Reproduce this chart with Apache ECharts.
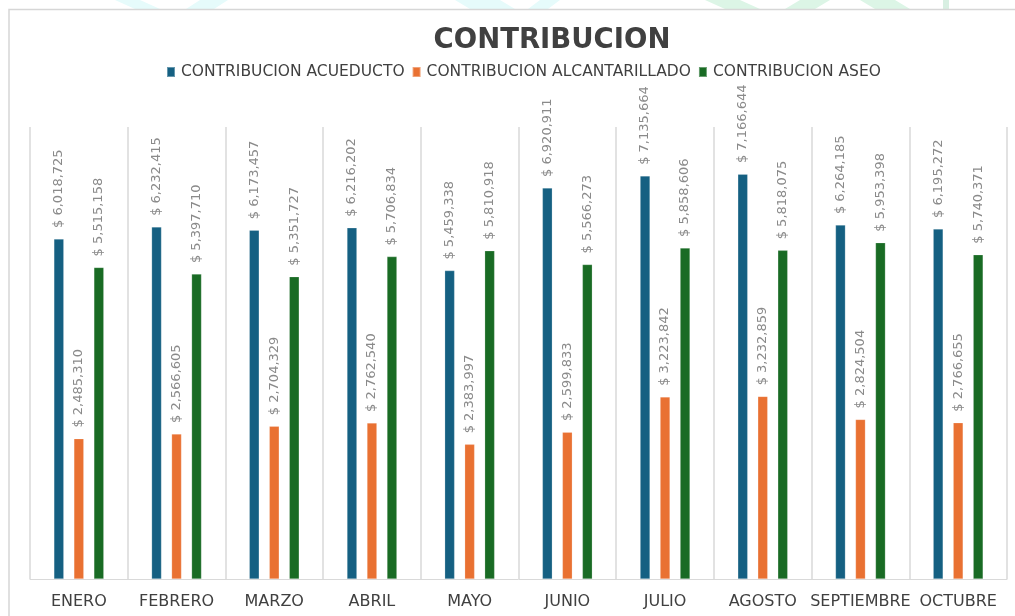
<!DOCTYPE html>
<html>
<head>
<meta charset="utf-8">
<script src="https://cdn.jsdelivr.net/npm/echarts@6/dist/echarts.min.js"></script>
<style>
html,body{margin:0;padding:0;background:#fff;}
#chart{width:1015px;height:616px;}
</style>
</head>
<body>
<div id="chart"></div>
<script>
const categories = ['ENERO','FEBRERO','MARZO','ABRIL','MAYO','JUNIO','JULIO','AGOSTO','SEPTIEMBRE','OCTUBRE'];
const acueducto = [6018725, 6232415, 6173457, 6216202, 5459338, 6920911, 7135664, 7166644, 6264185, 6195272];
const alcantarillado = [2485310, 2566605, 2704329, 2762540, 2383997, 2599833, 3223842, 3232859, 2824504, 2766655];
const aseo = [5515158, 5397710, 5351727, 5706834, 5810918, 5566273, 5858606, 5818075, 5953398, 5740371];
const seriesNames = ['CONTRIBUCION ACUEDUCTO','CONTRIBUCION ALCANTARILLADO','CONTRIBUCION ASEO'];
const colors = ['#156082','#E97132','#196B24'];

const chart = echarts.init(document.getElementById('chart'), null, {renderer:'canvas'});

function fmt(v){ return '$ ' + v.toString().replace(/\B(?=(\d{3})+(?!\d))/g, ','); }

const labelCfg = {
  show: true,
  position: 'top',
  rotate: 90,
  align: 'left',
  verticalAlign: 'middle',
  distance: 11,
  color: '#8a8a8a',
  fontFamily: 'DejaVu Sans',
  fontSize: 13,
  formatter: p => fmt(p.value)
};

function mk(name, data, color){
  return {
    name: name,
    type: 'bar',
    data: data,
    barWidth: 10,
    barGap: '100%',
    itemStyle: {color: color, borderColor: 'rgba(255,255,255,0.35)', borderWidth: 0.6},
    label: labelCfg
  };
}

chart.setOption({
  animation: false,
  color: colors,
  title: {
    text: 'CONTRIBUCION',
    left: 547,
    textAlign: 'center',
    top: 22,
    textStyle: {fontFamily: 'DejaVu Sans', fontWeight: 'bold', fontSize: 27.5, color: '#404040'}
  },
  legend: {
    data: seriesNames,
    left: 161,
    top: 59,
    itemWidth: 8,
    itemHeight: 10,
    itemGap: 7,
    icon: 'rect',
    textStyle: {fontFamily: 'DejaVu Sans', fontSize: 15.5, color: '#404040', padding: [0,0,0,1]}
  },
  grid: {left: 30, right: 8, top: 127, bottom: 37},
  xAxis: {
    type: 'category',
    data: categories,
    axisLine: {show: true, lineStyle: {color: '#d9d9d9', width: 1}},
    axisTick: {show: false},
    splitLine: {show: true, lineStyle: {color: '#d9d9d9', width: 1.5}},
    axisLabel: {margin: 15, interval: 0, fontFamily: 'DejaVu Sans', fontSize: 16, color: '#404040'}
  },
  yAxis: {
    type: 'value',
    min: 0,
    max: 8000000,
    show: false,
    splitLine: {show: false}
  },
  graphic: [
    {type:'polygon', silent:true, z:-10, shape:{points:[[115,0],[140,0],[160,9],[135,9]]}, style:{fill:'#e6fbfb'}},
    {type:'polygon', silent:true, z:-10, shape:{points:[[200,0],[228,0],[214,9],[186,9]]}, style:{fill:'#e6fbfb'}},
    {type:'polygon', silent:true, z:-10, shape:{points:[[455,0],[500,0],[515,9],[470,9]]}, style:{fill:'#e6fbfb'}},
    {type:'polygon', silent:true, z:-10, shape:{points:[[540,0],[560,0],[548,9],[528,9]]}, style:{fill:'#e6fbfb'}},
    {type:'polygon', silent:true, z:-10, shape:{points:[[705,0],[740,0],[760,9],[725,9]]}, style:{fill:'#dcf5e6'}},
    {type:'polygon', silent:true, z:-10, shape:{points:[[800,0],[830,0],[815,9],[785,9]]}, style:{fill:'#dcf5e6'}},
    {type:'polygon', silent:true, z:-10, shape:{points:[[860,0],[895,0],[910,9],[875,9]]}, style:{fill:'#dcf5e6'}},
    {type:'rect', silent:true, z:-10, shape:{x:943,y:0,width:6,height:9}, style:{fill:'#d8efe2'}},
    {type:'polyline', silent:true, z:-5, shape:{points:[[9,616],[9,9.5],[1015,9.5]]}, style:{stroke:'#d6d6d6', lineWidth:1.5, fill:null}}
  ],
  series: [
    mk(seriesNames[0], acueducto, colors[0]),
    mk(seriesNames[1], alcantarillado, colors[1]),
    mk(seriesNames[2], aseo, colors[2])
  ]
});
</script>
</body>
</html>
